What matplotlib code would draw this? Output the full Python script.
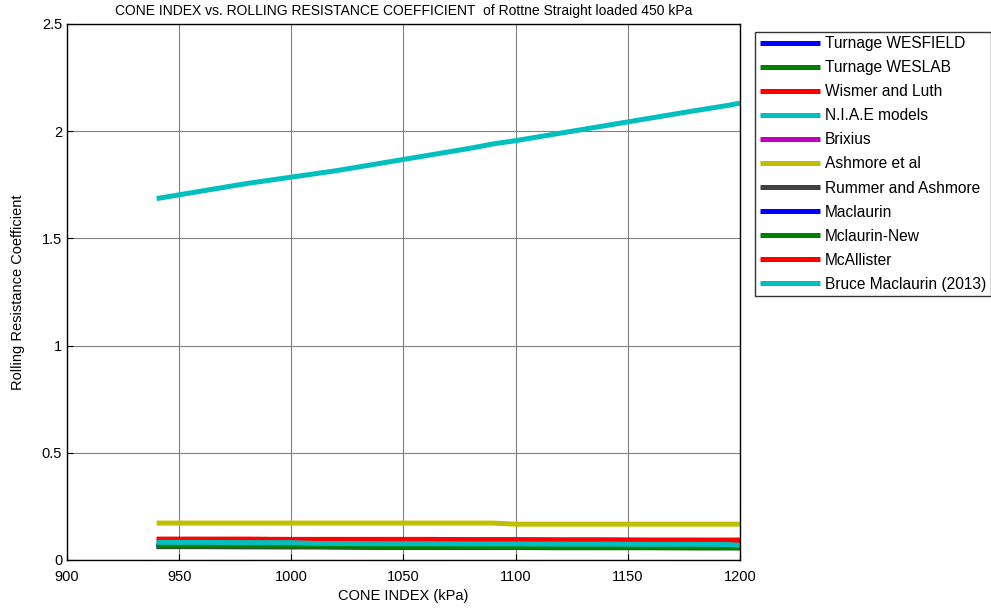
import matplotlib
matplotlib.use("Agg")
import matplotlib.pyplot as plt

plt.rcParams['font.family'] = ['Liberation Sans', 'DejaVu Sans']

# cone index (kPa)
ci = [940, 960, 980, 1000, 1010, 1020, 1040, 1060, 1080, 1090, 1100, 1120, 1140, 1160, 1180, 1195, 1200]

wesfield = [0.066, 0.066, 0.065, 0.065, 0.065, 0.065, 0.064, 0.064, 0.064, 0.063, 0.063, 0.063, 0.062, 0.062, 0.062, 0.062, 0.062]
weslab = [0.062, 0.062, 0.061, 0.061, 0.061, 0.060, 0.058, 0.058, 0.058, 0.058, 0.058, 0.057, 0.057, 0.057, 0.056, 0.056, 0.056]
wismer = [0.096, 0.096, 0.096, 0.095, 0.095, 0.095, 0.095, 0.094, 0.094, 0.094, 0.093, 0.092, 0.092, 0.091, 0.091, 0.090, 0.090]
niae = [1.685, 1.72, 1.755, 1.785, 1.80, 1.815, 1.85, 1.885, 1.92, 1.94, 1.955, 1.99, 2.025, 2.06, 2.095, 2.12, 2.13]
brixius = [0.064, 0.064, 0.063, 0.063, 0.063, 0.062, 0.062, 0.061, 0.061, 0.061, 0.060, 0.060, 0.059, 0.059, 0.058, 0.058, 0.058]
ashmore = [0.172, 0.172, 0.172, 0.172, 0.172, 0.172, 0.172, 0.172, 0.172, 0.172, 0.167, 0.167, 0.167, 0.167, 0.167, 0.167, 0.167]
rummer = [0.063, 0.063, 0.063, 0.062, 0.062, 0.062, 0.061, 0.061, 0.060, 0.060, 0.060, 0.059, 0.059, 0.059, 0.058, 0.058, 0.058]
maclaurin = [0.070, 0.070, 0.070, 0.069, 0.069, 0.069, 0.068, 0.068, 0.068, 0.067, 0.067, 0.067, 0.066, 0.066, 0.066, 0.065, 0.065]
mclaurin_new = [0.066, 0.066, 0.066, 0.065, 0.065, 0.064, 0.063, 0.063, 0.063, 0.062, 0.062, 0.062, 0.062, 0.061, 0.061, 0.061, 0.061]
mcallister = [0.097, 0.097, 0.097, 0.096, 0.096, 0.096, 0.096, 0.096, 0.095, 0.095, 0.095, 0.094, 0.094, 0.093, 0.093, 0.093, 0.093]
bruce = [0.082, 0.082, 0.081, 0.081, 0.077, 0.077, 0.076, 0.076, 0.075, 0.075, 0.075, 0.074, 0.074, 0.073, 0.073, 0.072, 0.068]

names = ["Turnage WESFIELD", "Turnage WESLAB", "Wismer and Luth", "N.I.A.E models", "Brixius",
         "Ashmore et al", "Rummer and Ashmore", "Maclaurin", "Mclaurin-New", "McAllister",
         "Bruce Maclaurin (2013)"]
series = [wesfield, weslab, wismer, niae, brixius, ashmore, rummer, maclaurin, mclaurin_new, mcallister, bruce]
colors = [(0, 0, 1), (0, 0.5, 0), (1, 0, 0), (0, 0.75, 0.75), (0.75, 0, 0.75),
          (0.75, 0.75, 0), (0.25, 0.25, 0.25), (0, 0, 1), (0, 0.5, 0), (1, 0, 0), (0, 0.75, 0.75)]

fig = plt.figure(figsize=(9.91, 6.10), dpi=100)
ax = fig.add_axes([0.0676, 0.082, 0.679, 0.879])

for y, name, c in zip(series, names, colors):
    ax.plot(ci, y, color=c, lw=3.6, label=name, solid_capstyle='butt')

ax.set_xlim(900, 1200)
ax.set_ylim(0, 2.5)
ax.set_xticks(range(900, 1201, 50))
ax.set_yticks([0, 0.5, 1, 1.5, 2, 2.5])
ax.set_yticklabels(["0", "0.5", "1", "1.5", "2", "2.5"])
ax.grid(True, color='#808080', lw=0.8)
ax.tick_params(direction='in', labelsize=10.5, length=4)
ax.tick_params(axis='x', pad=7)
for s in ax.spines.values():
    s.set_linewidth(1.0)

ax.set_title("CONE INDEX vs. ROLLING RESISTANCE COEFFICIENT  of Rottne Straight loaded 450 kPa", fontsize=10)
ax.set_xlabel("CONE INDEX (kPa)", fontsize=10.5, labelpad=4)
ax.set_ylabel("Rolling Resistance Coefficient", fontsize=10.5, labelpad=12)

leg = ax.legend(loc='upper left', bbox_to_anchor=(0.762, 0.948), bbox_transform=fig.transFigure,
                fontsize=11.2, frameon=True, fancybox=False, borderaxespad=0,
                handlelength=3.9, handletextpad=0.3, labelspacing=0.58, borderpad=0.3)
leg.get_frame().set_edgecolor('black')
leg.get_frame().set_linewidth(1.0)

fig.savefig("out.png", dpi=100)
